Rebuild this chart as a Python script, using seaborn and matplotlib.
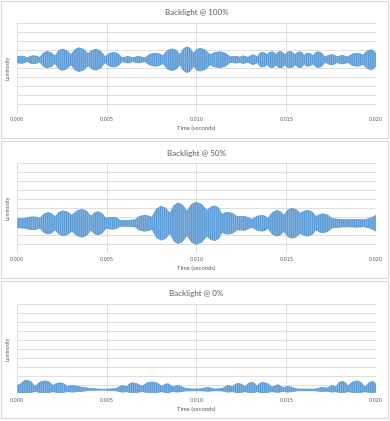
import numpy as np
import matplotlib
matplotlib.use('Agg')
import matplotlib.pyplot as plt
from matplotlib.patches import Rectangle
import seaborn as sns

# Envelope of the luminosity signal (time in ms)
# Backlight @ 100%: oscillates around 5.9, half-amplitude at each knot
center_100 = 5.9
t_100 = [0.00, 0.14, 0.28, 0.42, 0.56, 0.725, 0.89, 1.085, 1.28, 1.475, 1.67, 1.895, 2.12,
         2.315, 2.51, 2.76, 3.01, 3.23, 3.45, 3.705, 3.96, 4.18, 4.40, 4.65, 4.90, 5.15,
         5.40, 5.625, 5.85, 6.18, 6.46, 6.74, 7.13, 7.41, 7.69, 7.91, 8.13, 8.385, 8.64,
         8.86, 9.08, 9.275, 9.47, 9.65, 9.83, 10.015, 10.20, 10.475, 10.75, 11.025, 11.30,
         11.585, 11.87, 12.26, 12.42, 12.59, 12.87, 13.15, 13.40, 13.525, 13.65, 13.79,
         13.93, 14.065, 14.20, 14.315, 14.43, 14.54, 14.65, 14.79, 14.93, 15.065, 15.20,
         15.35, 15.50, 15.635, 15.77, 15.885, 16.00, 16.10, 16.20, 16.35, 16.50, 16.635,
         16.77, 16.965, 17.16, 17.355, 17.55, 17.685, 17.82, 18.10, 18.44, 18.69, 18.94,
         19.11, 19.28, 19.50, 19.72, 19.86, 20.00]
amp_100 = [0.33, 0.39, 0.41, 0.35, 0.19, 0.38, 0.44, 0.40, 0.26, 0.76, 0.92, 0.79, 0.41,
           1.00, 1.19, 1.03, 0.56, 1.14, 1.33, 1.17, 0.67, 1.05, 1.17, 0.96, 0.33, 0.71,
           0.83, 0.68, 0.22, 0.37, 0.22, 0.37, 0.22, 0.61, 0.74, 0.67, 0.44, 1.03, 1.22,
           1.06, 0.56, 1.22, 1.44, 1.26, 0.70, 1.14, 1.28, 1.10, 0.56, 0.81, 0.89,
           0.75, 0.33, 0.37, 0.28, 0.44, 0.28, 0.56, 0.33, 0.70, 0.83, 0.76,
           0.56, 0.81, 0.89, 0.81, 0.56, 0.83, 0.92, 0.83, 0.56, 0.83, 0.92,
           0.83, 0.56, 0.81, 0.89, 0.78, 0.44, 0.67, 0.74, 0.67, 0.44, 0.78,
           0.89, 0.74, 0.30, 0.50, 0.56, 0.50, 0.33, 0.48, 0.33, 0.64, 0.74,
           0.68, 0.50, 0.96, 1.11, 1.00, 0.67]

# Backlight @ 50%: oscillates around 3.3
center_50 = 3.3
t_50 = [0.00, 0.45, 0.67, 0.89, 1.085, 1.28, 1.505, 1.73, 1.925, 2.12, 2.34, 2.56, 2.81,
        3.06, 3.34, 3.62, 3.87, 4.12, 4.315, 4.51, 4.735, 4.96, 5.155, 5.35, 5.545, 5.74,
        6.18, 6.57, 6.825, 7.08, 7.30, 7.52, 7.77, 8.02, 8.27, 8.52, 8.745, 8.97, 9.22,
        9.47, 9.72, 9.97, 10.275, 10.58, 10.805, 11.03, 11.225, 11.42, 11.585, 11.75,
        12.005, 12.26, 12.70, 13.09, 13.37, 13.65, 13.815, 13.98, 14.23, 14.48, 14.675,
        14.87, 15.095, 15.32, 15.545, 15.77, 15.99, 16.21, 16.435, 16.66, 16.855, 17.05,
        17.30, 17.55, 17.99, 18.44, 18.89, 19.33, 19.67, 20.00]
amp_50 = [0.50, 0.55, 0.68, 0.72, 0.68, 0.55, 1.04, 1.20, 1.08, 0.72, 1.22, 1.39, 1.26,
          0.89, 1.39, 1.56, 1.37, 0.78, 1.17, 1.30, 1.11, 0.55, 0.64, 0.67, 0.59, 0.33,
          0.33, 0.39, 0.76, 0.89, 0.83, 0.67, 1.59, 1.89, 1.70, 1.11, 1.99, 2.28, 2.04,
          1.33, 2.10, 2.36, 2.13, 1.44, 1.82, 1.94, 1.72, 1.00, 1.17, 1.22,
          1.10, 0.74, 0.78, 0.44, 0.78, 0.89, 0.80, 0.55, 1.22, 1.44, 1.30,
          0.89, 1.48, 1.67, 1.53, 1.11, 1.36, 1.44, 1.26, 0.74, 0.98, 1.06,
          0.93, 0.52, 0.44, 0.39, 0.44, 0.39, 0.55, 0.89]

# Backlight @ 0%: sits near the floor, peaks only on the upper side
t_0 = [0.00, 0.22, 0.39, 0.56, 0.78, 1.00, 1.28, 1.56, 1.785, 2.01, 2.205, 2.40, 2.595,
       2.79, 3.12, 3.62, 4.18, 4.74, 5.18, 5.57, 5.85, 6.13, 6.27, 6.41, 6.685, 6.96,
       7.24, 7.52, 7.80, 8.08, 8.245, 8.41, 8.69, 8.97, 9.36, 9.75, 10.19, 10.64, 11.03,
       11.42, 11.75, 12.03, 12.17, 12.31, 12.505, 12.70, 12.895, 13.09, 13.23, 13.37,
       13.535, 13.70, 13.955, 14.21, 14.54, 14.82, 15.10, 15.65, 16.60, 16.99, 17.27,
       17.55, 17.77, 17.94, 18.11, 18.275, 18.44, 18.69, 18.94, 19.165, 19.39, 19.61,
       19.83, 20.00]
upper_0 = [0.86, 1.10, 1.40, 1.49, 1.32, 0.80, 1.27, 1.42, 1.29, 0.90, 1.13, 1.20, 1.10,
           0.80, 0.91, 0.70, 0.55, 0.48, 0.50, 0.60, 0.91, 0.75, 1.09, 1.20, 1.10, 0.80,
           1.18, 1.30, 1.18, 0.80, 1.03, 1.10, 0.75, 0.91, 0.60, 0.50, 0.52, 0.68, 0.50,
           0.55, 0.90, 0.75, 1.04, 1.14, 1.04, 0.75, 1.13, 1.25, 1.14, 0.80,
           1.14, 1.25, 1.11, 0.70, 1.00, 0.65, 0.80, 0.50, 0.50, 0.68, 0.60,
           0.90, 0.75, 1.22, 1.37, 1.24, 0.85, 1.28, 1.42, 1.24, 0.70, 1.20,
           1.37, 1.00]
lower_0 = [0.15, 0.10, 0.10, 0.10, 0.12, 0.20, 0.12, 0.10, 0.12, 0.20, 0.12, 0.10, 0.12,
           0.20, 0.15, 0.25, 0.35, 0.38, 0.35, 0.28, 0.15, 0.20, 0.12, 0.10, 0.12, 0.20,
           0.12, 0.10, 0.12, 0.20, 0.12, 0.10, 0.20, 0.15, 0.28, 0.30, 0.30, 0.25, 0.30,
           0.28, 0.15, 0.20, 0.12, 0.10, 0.12, 0.20, 0.12, 0.10, 0.12, 0.20,
           0.12, 0.10, 0.12, 0.20, 0.12, 0.22, 0.15, 0.30, 0.30, 0.22, 0.25,
           0.15, 0.20, 0.12, 0.10, 0.12, 0.20, 0.12, 0.10, 0.12, 0.20, 0.12,
           0.10, 0.15]

titles = ['Backlight @ 100%', 'Backlight @ 50%', 'Backlight @ 0%']
x_ticks = [0.000, 0.005, 0.010, 0.015, 0.020]

# upper / lower edges of each band
panels = [
    (t_100, [center_100 + a for a in amp_100], [center_100 - a for a in amp_100]),
    (t_50, [center_50 + a for a in amp_50], [center_50 - a for a in amp_50]),
    (t_0, upper_0, lower_0),
]

sns.set_theme(style='white')
plt.rcParams['font.family'] = ['Lato', 'DejaVu Sans']
plt.rcParams['hatch.linewidth'] = 0.35

blue = '#5b9bd5'
grey_text = '#595959'
grid_col = '#d9d9d9'

fig = plt.figure(figsize=(3.9, 4.21), dpi=100)

# panel frames (Excel chart areas), in pixels: (top, bottom)
frames = [(1, 138), (141, 278), (281, 418)]
plot_tops = [23, 163.3, 304]
plot_h = 89.5

for i, ((t_ms, up, lo), title) in enumerate(zip(panels, titles)):
    top_px, bot_px = frames[i]
    fig.add_artist(Rectangle((1 / 390, 1 - bot_px / 421), 387 / 390, (bot_px - top_px) / 421,
                             transform=fig.transFigure, fill=False,
                             edgecolor=grid_col, linewidth=0.8))

    ax = fig.add_axes([17 / 390, 1 - (plot_tops[i] + plot_h) / 421, 359 / 390, plot_h / 421])
    t = np.array(t_ms) / 1000.0

    ax.fill_between(t, lo, up, facecolor=blue, edgecolor='#a9cbec',
                    hatch='|' * 8, linewidth=0, zorder=3)
    sns.lineplot(x=t, y=up, ax=ax, color=blue, linewidth=0.5, zorder=4)
    sns.lineplot(x=t, y=lo, ax=ax, color=blue, linewidth=0.5, zorder=4)

    ax.set_xlim(0, 0.02)
    ax.set_ylim(0, 10)
    ax.set_xticks(x_ticks)
    ax.set_xticklabels([f'{v:.3f}' for v in x_ticks], fontfamily='DejaVu Sans')
    ax.set_yticks(np.arange(0, 11, 1))
    ax.set_yticklabels([])
    ax.tick_params(axis='both', length=0, pad=3, labelsize=3.5, colors=grey_text)
    ax.grid(True, color=grid_col, linewidth=0.6)
    ax.set_axisbelow(True)
    for s in ax.spines.values():
        s.set_visible(False)

    ax.set_title(title, fontsize=5.8, color=grey_text, pad=5.5)
    ax.set_xlabel('Time (seconds)', fontsize=4.2, color=grey_text, labelpad=3)
    ax.set_ylabel('Luminosity', fontsize=3.6, color=grey_text, labelpad=2)

fig.savefig('out.png', dpi=100, facecolor='white')
